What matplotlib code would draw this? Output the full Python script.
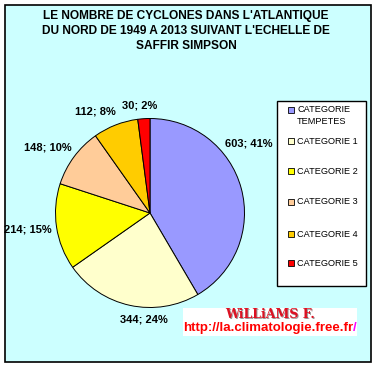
import matplotlib
matplotlib.use("Agg")
import matplotlib.pyplot as plt
from matplotlib.patches import Rectangle

# ---- data ----
categories = ["CATEGORIE\nTEMPETES", "CATEGORIE 1", "CATEGORIE 2",
              "CATEGORIE 3", "CATEGORIE 4", "CATEGORIE 5"]
counts = [603, 344, 214, 148, 112, 30]
percents = [41, 24, 15, 10, 8, 2]
colors = ["#9999FF", "#FFFFCC", "#FFFF00", "#FFCC99", "#FFCC00", "#FF0000"]
title_lines = ["LE NOMBRE DE CYCLONES DANS L'ATLANTIQUE",
               "DU NORD DE 1949 A 2013 SUIVANT L'ECHELLE DE",
               "SAFFIR SIMPSON"]

# label positions (pie data coords, radius = 1)
label_pos = [(1.04, 0.74), (-0.06, -1.13), (-1.29, -0.17),
             (-1.08, 0.69), (-0.58, 1.07), (-0.11, 1.14)]

W, H = 376, 368
fig = plt.figure(figsize=(W / 100, H / 100), dpi=100)
fig.patch.set_facecolor("white")


def fx(px):
    return px / W


def fy(py):
    return 1 - py / H


# outer chart area
fig.patches.append(Rectangle((fx(5), fy(362)), fx(371) - fx(5), fy(5) - fy(362),
                             transform=fig.transFigure, facecolor="#CCFFFF",
                             edgecolor="black", linewidth=1.2, zorder=-5))

# title
for i, line in enumerate(title_lines):
    fig.text(fx(186), fy(16 + 15 * i), line, ha="center", va="center",
             fontsize=8.6, fontweight="bold", family="Liberation Sans")

# pie
cx, cy, r = 150, 213, 94.5
ax = fig.add_axes([fx(cx - r), fy(cy + r), 2 * r / W, 2 * r / H], zorder=2)
ax.patch.set_alpha(0)
wedges, _ = ax.pie(counts, colors=colors, startangle=90, counterclock=False,
                   wedgeprops=dict(edgecolor="black", linewidth=0.7))
ax.set_xlim(-1, 1)
ax.set_ylim(-1, 1)
ax.set_aspect("equal")
ax.axis("off")

for (x, y), c, p in zip(label_pos, counts, percents):
    ax.text(x, y, f"{c}; {p}%", ha="center", va="center", fontsize=8,
            fontweight="bold", family="Liberation Sans", clip_on=False)

# legend
fig.patches.append(Rectangle((fx(277), fy(286)), fx(366) - fx(277), fy(101) - fy(286),
                             transform=fig.transFigure, facecolor="white",
                             edgecolor="black", linewidth=1.0, zorder=1))
entry_y = [110, 141, 171, 202, 234, 263]
for cat, col, ey in zip(categories, colors, entry_y):
    fig.patches.append(Rectangle((fx(288), fy(ey + 3)), 6 / W, 6 / H,
                                 transform=fig.transFigure, facecolor=col,
                                 edgecolor="black", linewidth=0.6, zorder=2))
    for k, part in enumerate(cat.split("\n")):
        fig.text(fx(297), fy(ey + 12 * k), part, ha="left", va="center",
                 fontsize=6.6, family="Liberation Sans", zorder=3)

# watermark
fig.patches.append(Rectangle((fx(183), fy(336)), fx(357) - fx(183), fy(308) - fy(336),
                             transform=fig.transFigure, facecolor="white",
                             edgecolor="none", zorder=1))
fig.text(fx(270.6), fy(315.4), "WiLLiAMS F.", ha="center", va="center", fontsize=9,
         fontweight="bold", family="DejaVu Serif", color="#999999", zorder=2)
fig.text(fx(270), fy(315), "WiLLiAMS F.", ha="center", va="center", fontsize=9,
         fontweight="bold", family="DejaVu Serif", color="#DD1122", zorder=3)
url_main = fig.text(fx(183), fy(328), "http://la.climatologie.free.fr", ha="left",
                    va="center", fontsize=9.5, fontweight="bold",
                    family="Liberation Sans", color="#FF0000", zorder=3)
fig.canvas.draw()
bb = url_main.get_window_extent()
fig.text(bb.x1 / W, fy(328), "/", ha="left", va="center", fontsize=9.5,
         fontweight="bold", family="Liberation Sans", color="#FF00FF", zorder=3)

fig.savefig("out.png", dpi=100, facecolor="white")
